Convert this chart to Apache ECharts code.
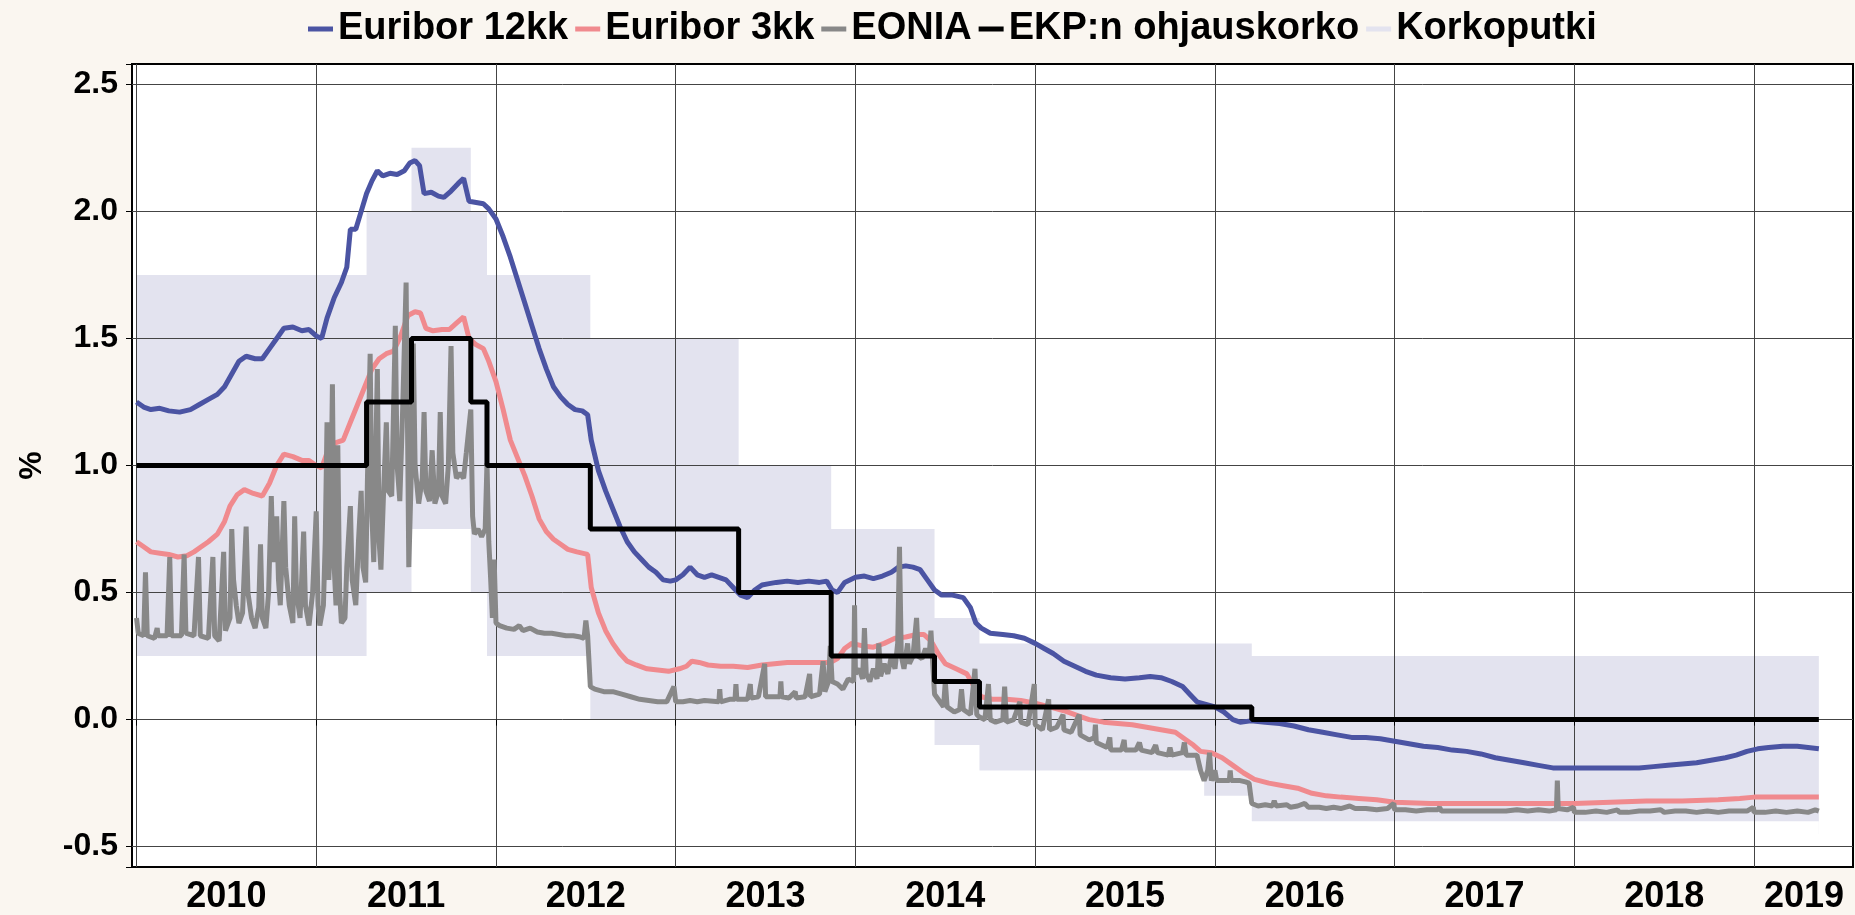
<!DOCTYPE html>
<html lang="fi">
<head>
<meta charset="UTF-8">
<script src="https://cdn.jsdelivr.net/npm/echarts@6/dist/echarts.min.js"></script>
<title>Euribor, EONIA ja EKP:n korot</title>
<style>
  html, body { margin: 0; background: #faf6f0; }
  #chart { width: 1855px; height: 915px; }
</style>
</head>
<body>
<div id="chart"></div>
<script>
// x = vuosi desimaalina, y = korko %
const euribor12 = [[2010.00,1.25],[2010.04,1.23],[2010.08,1.22],[2010.13,1.225],[2010.18,1.215],[2010.24,1.21],[2010.30,1.22],[2010.35,1.24],[2010.40,1.26],[2010.45,1.28],[2010.49,1.31],[2010.53,1.36],[2010.57,1.41],[2010.61,1.43],[2010.66,1.42],[2010.70,1.42],[2010.74,1.46],[2010.78,1.50],[2010.82,1.54],[2010.87,1.545],[2010.92,1.53],[2010.96,1.535],[2011.00,1.51],[2011.03,1.50],[2011.06,1.58],[2011.10,1.66],[2011.14,1.72],[2011.17,1.78],[2011.19,1.93],[2011.22,1.93],[2011.25,2.00],[2011.28,2.07],[2011.31,2.12],[2011.34,2.16],[2011.37,2.14],[2011.41,2.15],[2011.45,2.145],[2011.49,2.16],[2011.52,2.19],[2011.55,2.20],[2011.575,2.18],[2011.60,2.07],[2011.64,2.075],[2011.68,2.06],[2011.71,2.055],[2011.75,2.08],[2011.79,2.11],[2011.82,2.13],[2011.85,2.04],[2011.89,2.035],[2011.93,2.03],[2011.96,2.01],[2012.00,1.97],[2012.04,1.90],[2012.08,1.82],[2012.12,1.73],[2012.16,1.64],[2012.20,1.55],[2012.24,1.46],[2012.28,1.38],[2012.32,1.31],[2012.36,1.27],[2012.40,1.24],[2012.44,1.22],[2012.48,1.215],[2012.51,1.20],[2012.53,1.10],[2012.57,0.98],[2012.61,0.90],[2012.65,0.83],[2012.69,0.76],[2012.73,0.70],[2012.77,0.66],[2012.81,0.63],[2012.85,0.60],[2012.89,0.58],[2012.93,0.55],[2012.97,0.545],[2013.00,0.55],[2013.04,0.57],[2013.08,0.60],[2013.12,0.57],[2013.16,0.56],[2013.20,0.57],[2013.24,0.56],[2013.28,0.55],[2013.32,0.52],[2013.36,0.49],[2013.40,0.48],[2013.44,0.51],[2013.48,0.53],[2013.52,0.535],[2013.56,0.54],[2013.62,0.545],[2013.68,0.54],[2013.74,0.545],[2013.80,0.54],[2013.84,0.545],[2013.87,0.51],[2013.90,0.50],[2013.94,0.54],[2014.00,0.56],[2014.05,0.565],[2014.10,0.555],[2014.15,0.565],[2014.20,0.58],[2014.24,0.60],[2014.28,0.605],[2014.32,0.60],[2014.36,0.59],[2014.40,0.55],[2014.44,0.51],[2014.48,0.49],[2014.54,0.49],[2014.60,0.48],[2014.64,0.44],[2014.67,0.38],[2014.70,0.36],[2014.75,0.34],[2014.82,0.335],[2014.88,0.33],[2014.94,0.32],[2015.00,0.30],[2015.05,0.28],[2015.10,0.26],[2015.16,0.23],[2015.22,0.21],[2015.28,0.19],[2015.34,0.175],[2015.42,0.165],[2015.50,0.16],[2015.58,0.165],[2015.64,0.17],[2015.70,0.165],[2015.76,0.15],[2015.82,0.13],[2015.86,0.10],[2015.90,0.07],[2015.95,0.06],[2016.00,0.05],[2016.05,0.03],[2016.10,0.0],[2016.14,-0.01],[2016.20,-0.005],[2016.28,-0.01],[2016.36,-0.015],[2016.44,-0.025],[2016.52,-0.04],[2016.60,-0.05],[2016.68,-0.06],[2016.76,-0.07],[2016.84,-0.07],[2016.92,-0.075],[2017.00,-0.085],[2017.08,-0.095],[2017.16,-0.105],[2017.24,-0.11],[2017.32,-0.12],[2017.40,-0.125],[2017.48,-0.135],[2017.56,-0.15],[2017.64,-0.16],[2017.72,-0.17],[2017.80,-0.18],[2017.88,-0.19],[2017.96,-0.19],[2018.04,-0.19],[2018.12,-0.19],[2018.20,-0.19],[2018.28,-0.19],[2018.36,-0.19],[2018.44,-0.185],[2018.52,-0.18],[2018.60,-0.175],[2018.68,-0.17],[2018.76,-0.16],[2018.84,-0.15],[2018.90,-0.14],[2018.96,-0.125],[2019.02,-0.115],[2019.08,-0.11],[2019.16,-0.105],[2019.24,-0.105],[2019.30,-0.11],[2019.36,-0.115]];

const euribor3 = [[2010.00,0.70],[2010.04,0.68],[2010.08,0.66],[2010.13,0.655],[2010.18,0.65],[2010.23,0.64],[2010.28,0.645],[2010.32,0.66],[2010.36,0.68],[2010.40,0.70],[2010.45,0.73],[2010.49,0.78],[2010.52,0.84],[2010.56,0.885],[2010.60,0.905],[2010.65,0.89],[2010.70,0.88],[2010.74,0.93],[2010.78,1.00],[2010.82,1.045],[2010.87,1.035],[2010.92,1.02],[2010.96,1.02],[2011.00,1.00],[2011.03,0.99],[2011.07,1.07],[2011.11,1.09],[2011.15,1.10],[2011.19,1.17],[2011.23,1.24],[2011.27,1.31],[2011.31,1.38],[2011.35,1.42],[2011.39,1.44],[2011.43,1.45],[2011.47,1.51],[2011.51,1.59],[2011.55,1.605],[2011.58,1.60],[2011.61,1.54],[2011.65,1.53],[2011.70,1.535],[2011.74,1.535],[2011.78,1.56],[2011.82,1.585],[2011.85,1.50],[2011.89,1.475],[2011.93,1.46],[2011.96,1.41],[2012.00,1.33],[2012.04,1.22],[2012.08,1.10],[2012.12,1.03],[2012.16,0.96],[2012.20,0.88],[2012.24,0.79],[2012.28,0.74],[2012.32,0.71],[2012.36,0.69],[2012.40,0.67],[2012.45,0.66],[2012.51,0.65],[2012.53,0.52],[2012.57,0.42],[2012.61,0.35],[2012.65,0.30],[2012.69,0.26],[2012.73,0.23],[2012.78,0.215],[2012.84,0.20],[2012.90,0.195],[2012.96,0.19],[2013.02,0.20],[2013.06,0.21],[2013.09,0.23],[2013.13,0.225],[2013.18,0.215],[2013.25,0.21],[2013.32,0.21],[2013.40,0.205],[2013.48,0.215],[2013.55,0.22],[2013.62,0.225],[2013.70,0.225],[2013.78,0.225],[2013.86,0.225],[2013.90,0.24],[2013.94,0.28],[2013.98,0.30],[2014.04,0.29],[2014.10,0.285],[2014.16,0.30],[2014.22,0.32],[2014.28,0.325],[2014.34,0.335],[2014.38,0.335],[2014.42,0.31],[2014.46,0.26],[2014.50,0.22],[2014.56,0.20],[2014.62,0.18],[2014.66,0.13],[2014.70,0.09],[2014.76,0.08],[2014.84,0.08],[2014.92,0.075],[2015.00,0.065],[2015.08,0.05],[2015.16,0.035],[2015.24,0.015],[2015.30,0.0],[2015.38,-0.01],[2015.46,-0.015],[2015.54,-0.02],[2015.62,-0.03],[2015.70,-0.04],[2015.78,-0.05],[2015.84,-0.08],[2015.88,-0.10],[2015.92,-0.125],[2015.98,-0.13],[2016.04,-0.15],[2016.10,-0.18],[2016.16,-0.21],[2016.22,-0.235],[2016.30,-0.25],[2016.38,-0.26],[2016.46,-0.27],[2016.54,-0.29],[2016.62,-0.30],[2016.70,-0.305],[2016.80,-0.31],[2016.90,-0.315],[2017.00,-0.325],[2017.20,-0.33],[2017.40,-0.33],[2017.60,-0.33],[2017.80,-0.33],[2018.00,-0.33],[2018.20,-0.325],[2018.40,-0.32],[2018.60,-0.32],[2018.80,-0.315],[2018.92,-0.31],[2019.00,-0.305],[2019.20,-0.305],[2019.36,-0.305]];

const eonia = [[2010.00,0.40],[2010.01,0.34],[2010.04,0.33],[2010.05,0.58],[2010.06,0.33],[2010.10,0.32],[2010.115,0.36],[2010.12,0.33],[2010.17,0.33],[2010.185,0.64],[2010.195,0.33],[2010.25,0.33],[2010.265,0.65],[2010.275,0.34],[2010.32,0.33],[2010.345,0.64],[2010.355,0.33],[2010.40,0.32],[2010.425,0.64],[2010.435,0.33],[2010.46,0.31],[2010.485,0.66],[2010.495,0.35],
  [2010.52,0.40],[2010.53,0.75],[2010.54,0.55],[2010.555,0.45],[2010.57,0.38],[2010.59,0.42],[2010.61,0.76],[2010.62,0.50],[2010.64,0.40],[2010.66,0.36],[2010.68,0.44],[2010.69,0.69],[2010.70,0.40],[2010.72,0.36],[2010.735,0.50],[2010.75,0.88],[2010.76,0.62],[2010.78,0.80],[2010.79,0.55],[2010.80,0.45],[2010.82,0.86],[2010.83,0.60],[2010.85,0.45],[2010.87,0.38],[2010.88,0.80],[2010.89,0.50],[2010.91,0.40],[2010.93,0.74],[2010.94,0.45],[2010.96,0.37],[2010.98,0.50],[2011.00,0.82],[2011.01,0.45],[2011.02,0.37],
  [2011.04,0.45],[2011.05,0.70],[2011.06,1.17],[2011.07,0.55],[2011.08,0.75],[2011.09,1.32],[2011.10,0.60],[2011.11,0.45],[2011.12,1.08],[2011.13,0.50],[2011.14,0.38],[2011.16,0.40],[2011.17,0.60],[2011.19,0.84],[2011.20,0.55],[2011.22,0.45],[2011.235,0.70],[2011.25,0.90],[2011.26,0.60],[2011.275,0.54],[2011.285,0.95],[2011.30,1.44],[2011.31,0.80],[2011.32,0.62],[2011.34,1.38],[2011.35,0.70],[2011.36,0.59],[2011.375,0.90],[2011.39,1.17],[2011.40,0.90],[2011.42,0.88],[2011.44,1.55],[2011.45,1.00],[2011.465,0.86],[2011.48,1.20],[2011.50,1.72],[2011.51,1.00],[2011.515,0.60],[2011.53,1.00],[2011.54,1.48],[2011.55,1.00],[2011.57,0.85],[2011.59,0.95],[2011.60,1.21],[2011.61,0.90],[2011.63,0.86],[2011.645,1.06],[2011.66,0.85],[2011.68,0.90],[2011.69,1.21],[2011.70,0.88],[2011.72,0.85],[2011.735,1.00],[2011.75,1.47],[2011.76,1.05],[2011.78,0.95],[2011.80,0.97],[2011.82,0.95],[2011.835,1.05],[2011.86,1.22],[2011.87,0.80],[2011.88,0.73],[2011.90,0.75],[2011.92,0.72],[2011.94,0.75],[2011.95,1.01],[2011.96,0.70],[2011.97,0.56],[2011.98,0.40],[2011.99,0.63],[2012.00,0.38],
  [2012.02,0.37],[2012.06,0.36],[2012.10,0.355],[2012.13,0.37],[2012.15,0.35],[2012.19,0.36],[2012.23,0.345],[2012.27,0.34],[2012.31,0.34],[2012.35,0.335],[2012.39,0.33],[2012.43,0.33],[2012.47,0.325],[2012.49,0.32],[2012.50,0.39],[2012.51,0.33],[2012.525,0.13],[2012.55,0.12],[2012.60,0.11],[2012.65,0.11],[2012.70,0.10],[2012.75,0.09],[2012.80,0.08],[2012.85,0.075],[2012.90,0.07],[2012.95,0.07],[2012.99,0.13],[2013.00,0.07],
  [2013.04,0.07],[2013.08,0.075],[2013.12,0.07],[2013.16,0.075],[2013.24,0.07],[2013.245,0.12],[2013.25,0.07],[2013.30,0.08],[2013.33,0.08],[2013.335,0.14],[2013.34,0.08],[2013.40,0.08],[2013.415,0.14],[2013.42,0.085],[2013.46,0.09],[2013.495,0.22],[2013.50,0.09],[2013.55,0.09],[2013.58,0.09],[2013.585,0.15],[2013.59,0.09],[2013.63,0.085],[2013.665,0.11],[2013.67,0.085],[2013.72,0.09],[2013.745,0.18],[2013.75,0.09],[2013.80,0.10],[2013.82,0.23],[2013.83,0.11],[2013.85,0.15],[2013.86,0.29],[2013.87,0.15],[2013.90,0.14],[2013.93,0.12],[2013.96,0.16],[2013.99,0.15],[2013.995,0.45],[2014.00,0.18],
  [2014.02,0.20],[2014.04,0.16],[2014.05,0.36],[2014.06,0.18],[2014.08,0.15],[2014.10,0.20],[2014.12,0.16],[2014.13,0.30],[2014.14,0.17],[2014.16,0.22],[2014.18,0.18],[2014.20,0.25],[2014.22,0.20],[2014.235,0.30],[2014.245,0.68],[2014.255,0.25],[2014.27,0.20],[2014.29,0.30],[2014.30,0.22],[2014.32,0.25],[2014.34,0.40],[2014.35,0.25],[2014.37,0.24],[2014.39,0.28],[2014.41,0.25],[2014.42,0.35],[2014.43,0.22],[2014.44,0.10],
  [2014.46,0.08],[2014.49,0.05],[2014.50,0.15],[2014.51,0.05],[2014.55,0.03],[2014.58,0.04],[2014.59,0.12],[2014.60,0.04],[2014.64,0.02],[2014.665,0.20],[2014.675,0.02],[2014.69,0.01],
  [2014.72,0.0],[2014.74,0.14],[2014.75,0.0],[2014.78,-0.01],[2014.82,0.0],[2014.83,0.13],[2014.84,-0.01],[2014.88,0.0],[2014.915,0.07],[2014.92,-0.01],[2014.96,-0.02],[2014.995,0.14],[2015.00,-0.02],[2015.04,-0.04],[2015.075,0.08],[2015.08,-0.04],[2015.12,-0.03],[2015.155,0.02],[2015.16,-0.04],[2015.20,-0.05],[2015.245,0.02],[2015.25,-0.06],[2015.30,-0.08],[2015.33,-0.07],[2015.335,-0.02],[2015.34,-0.09],[2015.40,-0.11],[2015.415,-0.07],[2015.42,-0.12],[2015.48,-0.12],[2015.495,-0.08],[2015.50,-0.12],[2015.56,-0.12],[2015.58,-0.09],[2015.59,-0.12],[2015.65,-0.13],[2015.67,-0.10],[2015.68,-0.13],[2015.74,-0.14],[2015.75,-0.11],[2015.76,-0.14],[2015.82,-0.13],[2015.83,-0.09],[2015.84,-0.14],[2015.90,-0.14],[2015.92,-0.20],[2015.94,-0.24],
  [2015.96,-0.20],[2015.97,-0.13],[2015.98,-0.24],[2016.00,-0.20],[2016.01,-0.24],[2016.05,-0.24],[2016.08,-0.24],[2016.085,-0.20],[2016.09,-0.24],[2016.14,-0.24],[2016.17,-0.245],[2016.19,-0.25],[2016.205,-0.33],
  [2016.24,-0.34],[2016.28,-0.335],[2016.32,-0.34],[2016.33,-0.32],[2016.34,-0.34],[2016.40,-0.335],[2016.42,-0.345],[2016.46,-0.34],[2016.50,-0.33],[2016.52,-0.345],[2016.58,-0.345],[2016.62,-0.35],[2016.66,-0.345],[2016.70,-0.35],[2016.75,-0.34],[2016.78,-0.35],[2016.84,-0.35],[2016.90,-0.355],[2016.96,-0.35],[2016.995,-0.33],[2017.00,-0.355],[2017.06,-0.355],[2017.12,-0.36],[2017.18,-0.355],[2017.24,-0.355],[2017.25,-0.345],[2017.26,-0.36],[2017.32,-0.36],[2017.38,-0.36],[2017.44,-0.36],[2017.50,-0.36],[2017.56,-0.36],[2017.62,-0.36],[2017.68,-0.355],[2017.74,-0.36],[2017.80,-0.355],[2017.86,-0.36],[2017.90,-0.355],[2017.905,-0.24],[2017.91,-0.35],[2017.96,-0.355],[2017.995,-0.345],[2018.00,-0.365],[2018.06,-0.365],[2018.12,-0.36],[2018.18,-0.365],[2018.24,-0.355],[2018.25,-0.365],[2018.30,-0.365],[2018.36,-0.36],[2018.42,-0.36],[2018.48,-0.355],[2018.50,-0.365],[2018.56,-0.36],[2018.62,-0.36],[2018.68,-0.365],[2018.74,-0.36],[2018.80,-0.365],[2018.86,-0.36],[2018.92,-0.36],[2018.96,-0.36],[2018.995,-0.345],[2019.00,-0.365],[2019.06,-0.365],[2019.12,-0.36],[2019.18,-0.365],[2019.24,-0.36],[2019.30,-0.365],[2019.34,-0.355],[2019.36,-0.36]];

// EKP:n korkopäätösten päivät ja korot
const paatosPaivat = [2010.0, 2011.28, 2011.53, 2011.86, 2011.95, 2012.525, 2013.35, 2013.865, 2014.44, 2014.69, 2015.94, 2016.205, 2019.36];
const ohjauskorko  = [1.0, 1.25, 1.5, 1.25, 1.0, 0.75, 0.5, 0.25, 0.15, 0.05, 0.05, 0.0, 0.0];
const talletuskorko = [0.25, 0.5, 0.75, 0.5, 0.25, 0.0, 0.0, 0.0, -0.1, -0.2, -0.3, -0.4, -0.4];
const maksuvalmiusluotto = [1.75, 2.0, 2.25, 2.0, 1.75, 1.5, 1.0, 0.75, 0.4, 0.3, 0.3, 0.25, 0.25];

const vuodet = ['2010','2011','2012','2013','2014','2015','2016','2017','2018','2019'];

const ohjausData = paatosPaivat.map((t, i) => [t, ohjauskorko[i]]);
const alaData = paatosPaivat.map((t, i) => [t, talletuskorko[i]]);
const ylaData = paatosPaivat.map((t, i) => [t, maksuvalmiusluotto[i]]);

const isHalf = v => Math.abs(v * 2 - Math.round(v * 2)) < 1e-6;
const labelFont = { fontFamily: 'Liberation Sans', fontWeight: 'bold', fontSize: 36, color: '#000' };

const chart = echarts.init(document.getElementById('chart'));
chart.setOption({
  animation: false,
  backgroundColor: '#faf6f0',
  legend: {
    data: ['Euribor 12kk', 'Euribor 3kk', 'EONIA', 'EKP:n ohjauskorko', 'Korkoputki'],
    left: 303, top: 5,
    itemGap: 7, itemWidth: 25, itemHeight: 5, icon: 'rect',
    textStyle: { fontFamily: 'Liberation Sans', fontWeight: 'bold', fontSize: 38, color: '#000' }
  },
  grid: {
    left: 132, right: 2, top: 64, bottom: 48, outerBoundsMode: 'none',
    show: true, backgroundColor: '#fff', borderColor: '#000', borderWidth: 2
  },
  xAxis: [{
    type: 'value', min: 2009.975, max: 2019.55, splitNumber: 10, position: 'bottom', z: 2,
    axisLine: { show: false },
    axisTick: { show: true, length: 6, lineStyle: { color: '#000' } },
    axisLabel: { show: false },
    splitLine: { show: true, showMinLine: false, showMaxLine: false, lineStyle: { color: '#444', width: 1 } }
  }, {
    type: 'value', min: 2009.975, max: 2019.55, splitNumber: 20, position: 'bottom', z: 2,
    axisLine: { show: false }, axisTick: { show: false }, splitLine: { show: false },
    axisLabel: {
      margin: 12, ...labelFont,
      formatter: v => {
        const y = Math.floor(v);
        if (Math.abs(v - y - 0.5) > 1e-6 || !vuodet.includes(String(y))) return '';
        // viimeinen vuosi on vain osittain näkyvissä, joten nimi siirtyy vasemmalle
        return y === 2019 ? '{viim|' + y + '}' : String(y);
      },
      rich: { viim: { ...labelFont, padding: [0, 80, 0, 0] } }
    }
  }],
  yAxis: {
    type: 'value', min: -0.58, max: 2.58, splitNumber: 6, z: 2,
    name: '%', nameLocation: 'middle', nameGap: 84, nameRotate: 90,
    nameTextStyle: { fontFamily: 'Liberation Sans', fontWeight: 'bold', fontSize: 32, color: '#000' },
    axisLine: { show: false },
    axisTick: { show: true, length: 6, lineStyle: { color: '#000' } },
    axisLabel: {
      margin: 14,
      fontFamily: 'Liberation Sans', fontWeight: 'bold', fontSize: 32, color: '#000',
      formatter: v => isHalf(v) ? v.toFixed(1) : ''
    },
    splitLine: { show: true, showMinLine: false, showMaxLine: false, lineStyle: { color: '#444', width: 1 } }
  },
  series: [
    {
      // korkoputken yläraja (maksuvalmiusluottokorko), täytetty alas asti
      name: 'Korkoputki', type: 'line', data: ylaData, step: 'end', color: '#e3e3ef',
      showSymbol: false, z: 1, silent: true,
      lineStyle: { width: 0 }, areaStyle: { color: '#e3e3ef', opacity: 1, origin: -0.45 }
    },
    {
      // alaraja (talletuskorko): valkoinen täyttö peittää putken alapuolen
      name: 'putki_ala', type: 'line', data: alaData, step: 'end', color: '#fff',
      showSymbol: false, z: 1, silent: true,
      lineStyle: { width: 0 }, areaStyle: { color: '#fff', opacity: 1, origin: -0.45 }
    },
    {
      name: 'Euribor 12kk', type: 'line', data: euribor12, color: '#4b54a3', z: 3,
      showSymbol: false, lineStyle: { width: 5 }
    },
    {
      name: 'Euribor 3kk', type: 'line', data: euribor3, color: '#f08a8e', z: 3,
      showSymbol: false, lineStyle: { width: 5 }
    },
    {
      name: 'EONIA', type: 'line', data: eonia, color: '#888888', z: 3,
      showSymbol: false, lineStyle: { width: 5 }
    },
    {
      name: 'EKP:n ohjauskorko', type: 'line', data: ohjausData, step: 'end', color: '#000', z: 3,
      showSymbol: false, lineStyle: { width: 5 }
    }
  ]
});
</script>
</body>
</html>
